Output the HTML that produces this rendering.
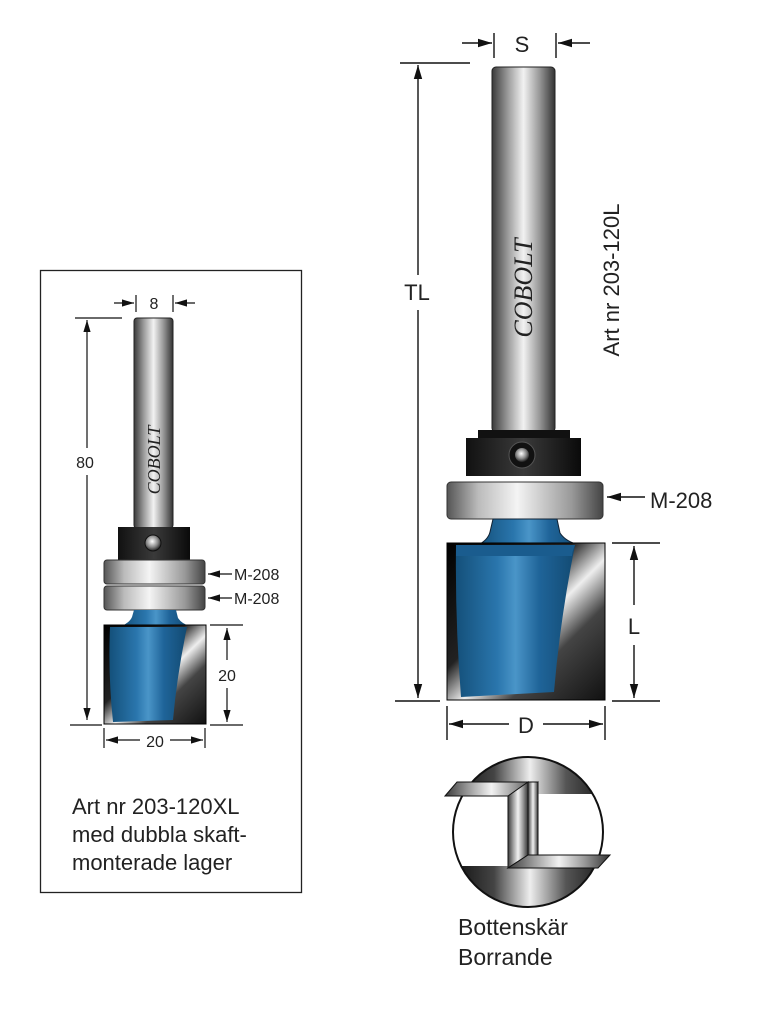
<!DOCTYPE html>
<html><head><meta charset="utf-8"><style>
html,body{margin:0;padding:0;background:#fff;}
svg{display:block;}
text{font-family:"Liberation Sans",sans-serif;fill:#222;}
</style></head><body>
<svg width="775" height="1024" viewBox="0 0 775 1024" xmlns="http://www.w3.org/2000/svg">
<defs>
<linearGradient id="steel" x1="0" x2="1" y1="0" y2="0">
<stop offset="0" stop-color="#3a3a3a"/><stop offset="0.25" stop-color="#9a9a9a"/><stop offset="0.5" stop-color="#f2f2f2"/><stop offset="0.75" stop-color="#999"/><stop offset="1" stop-color="#333"/></linearGradient>
<linearGradient id="cst" x1="0" x2="1" y1="0" y2="0">
<stop offset="0" stop-color="#000"/><stop offset="0.3" stop-color="#444"/><stop offset="0.5" stop-color="#eee"/><stop offset="0.7" stop-color="#555"/><stop offset="1" stop-color="#000"/></linearGradient>
<linearGradient id="bear" x1="0" x2="1" y1="0" y2="0">
<stop offset="0" stop-color="#555"/><stop offset="0.2" stop-color="#bbb"/><stop offset="0.45" stop-color="#f4f4f4"/><stop offset="0.8" stop-color="#999"/><stop offset="1" stop-color="#444"/></linearGradient>
<linearGradient id="blk" x1="0" x2="1" y1="0" y2="0">
<stop offset="0" stop-color="#111"/><stop offset="0.5" stop-color="#3a3a3a"/><stop offset="1" stop-color="#0a0a0a"/></linearGradient>
<linearGradient id="blue" x1="0" x2="1" y1="0" y2="0">
<stop offset="0" stop-color="#14507a"/><stop offset="0.35" stop-color="#2a76ad"/><stop offset="0.5" stop-color="#4a95c8"/><stop offset="0.7" stop-color="#1f6499"/><stop offset="1" stop-color="#124a72"/></linearGradient>
<linearGradient id="chrome" x1="0" x2="1" y1="0" y2="1">
<stop offset="0" stop-color="#000"/><stop offset="0.4" stop-color="#222"/><stop offset="0.55" stop-color="#eee"/><stop offset="0.7" stop-color="#444"/><stop offset="1" stop-color="#111"/></linearGradient>
<radialGradient id="ball" cx="0.45" cy="0.4" r="0.6"><stop offset="0" stop-color="#fff"/><stop offset="0.6" stop-color="#888"/><stop offset="1" stop-color="#222"/></radialGradient>
<marker id="ar" viewBox="0 0 10 10" refX="10" refY="5" markerWidth="10" markerHeight="10" orient="auto-start-reverse"><path d="M0,2 L10,5 L0,8 z" fill="#111"/></marker>
<clipPath id="cc"><circle cx="528" cy="832" r="75"/></clipPath>
</defs>

<!-- Big tool -->
<g stroke="#111" stroke-width="1.4" fill="none">
<line x1="400" y1="63" x2="470" y2="63"/>
<line x1="418" y1="65" x2="418" y2="275" marker-start="url(#ar)"/>
<line x1="418" y1="310" x2="418" y2="698" marker-end="url(#ar)"/>
<line x1="395" y1="701" x2="440" y2="701"/>
<line x1="612" y1="701" x2="660" y2="701"/>
<line x1="612" y1="543" x2="660" y2="543"/>
<line x1="634" y1="546" x2="634" y2="605" marker-start="url(#ar)"/>
<line x1="634" y1="645" x2="634" y2="698" marker-end="url(#ar)"/>
<line x1="447" y1="706" x2="447" y2="740"/>
<line x1="605" y1="706" x2="605" y2="740"/>
<line x1="509" y1="724" x2="449" y2="724" marker-end="url(#ar)"/>
<line x1="543" y1="724" x2="603" y2="724" marker-end="url(#ar)"/>
<line x1="494" y1="33" x2="494" y2="58"/>
<line x1="556" y1="33" x2="556" y2="58"/>
<line x1="462" y1="43" x2="492" y2="43" marker-end="url(#ar)"/>
<line x1="590" y1="43" x2="558" y2="43" marker-end="url(#ar)"/>
<line x1="645" y1="497" x2="607" y2="497" marker-end="url(#ar)"/>
</g>
<text x="522" y="52" font-size="22" text-anchor="middle">S</text>
<text x="417" y="300" font-size="22" text-anchor="middle">TL</text>
<text x="634" y="634" font-size="22" text-anchor="middle">L</text>
<text x="526" y="733" font-size="22" text-anchor="middle">D</text>
<text x="650" y="508" font-size="22">M-208</text>
<text transform="translate(619,280) rotate(-90)" font-size="22" text-anchor="middle">Art nr 203-120L</text>

<rect x="492" y="67" width="63" height="365" rx="4" fill="url(#steel)" stroke="#222"/>
<text transform="translate(532,288) rotate(-90)" font-size="26" font-style="italic" text-anchor="middle" style="font-family:'Liberation Serif',serif">COBOLT</text>
<rect x="478" y="430" width="92" height="12" fill="#111"/>
<rect x="466" y="438" width="115" height="38" fill="url(#blk)"/>
<circle cx="522" cy="455" r="13" fill="#111" stroke="#555"/>
<circle cx="522" cy="455" r="7" fill="url(#ball)"/>
<rect x="447" y="482" width="156" height="37" rx="4" fill="url(#bear)" stroke="#333"/>
<path d="M493,519 L557,519 L560,533 Q566,542 580,545 L478,545 Q488,540 490,532 Z" fill="url(#blue)" stroke="#123"/>
<rect x="447" y="543" width="158" height="157" fill="url(#chrome)" stroke="#000"/>
<path d="M456,545 L575,545 Q560,620 554,692 L461,697 Q455,620 456,545 Z" fill="url(#blue)"/>
<path d="M456,545 L575,545 Q572,552 572,556 L456,556 Z" fill="#1a5c8e"/>

<!-- circle detail -->
<g clip-path="url(#cc)">
<rect x="440" y="750" width="180" height="170" fill="#fff"/>
<rect x="440" y="750" width="180" height="44" fill="url(#cst)"/>
<rect x="440" y="866" width="180" height="45" fill="url(#cst)"/>
</g>
<circle cx="528" cy="832" r="75" fill="none" stroke="#111" stroke-width="2"/>
<path d="M445,796 L457,782 L538,782 L528,796 Z" fill="url(#steel)" stroke="#111"/>
<path d="M508,796 L528,782 L528,855 L508,868 Z" fill="url(#steel)" stroke="#111"/>
<path d="M528,782 L538,782 L538,855 L528,855 Z" fill="url(#steel)" stroke="#111"/>
<path d="M508,868 L528,855 L610,855 L598,868 Z" fill="url(#steel)" stroke="#111"/>
<text x="458" y="935" font-size="23">Bottenskär</text>
<text x="458" y="965" font-size="23">Borrande</text>

<!-- Left box -->
<rect x="40.5" y="270.5" width="261" height="622" fill="none" stroke="#222" stroke-width="1.3"/>
<g stroke="#111" stroke-width="1.2" fill="none">
<line x1="75" y1="318" x2="122" y2="318"/>
<line x1="87" y1="320" x2="87" y2="448" marker-start="url(#ar)"/>
<line x1="87" y1="475" x2="87" y2="720" marker-end="url(#ar)"/>
<line x1="70" y1="725" x2="102" y2="725"/>
<line x1="210" y1="725" x2="243" y2="725"/>
<line x1="210" y1="625" x2="243" y2="625"/>
<line x1="227" y1="628" x2="227" y2="660" marker-start="url(#ar)"/>
<line x1="227" y1="688" x2="227" y2="722" marker-end="url(#ar)"/>
<line x1="104" y1="728" x2="104" y2="748"/>
<line x1="205" y1="728" x2="205" y2="748"/>
<line x1="140" y1="740" x2="106" y2="740" marker-end="url(#ar)"/>
<line x1="170" y1="740" x2="203" y2="740" marker-end="url(#ar)"/>
<line x1="136" y1="295" x2="136" y2="312"/>
<line x1="173" y1="295" x2="173" y2="312"/>
<line x1="114" y1="303" x2="134" y2="303" marker-end="url(#ar)"/>
<line x1="195" y1="303" x2="175" y2="303" marker-end="url(#ar)"/>
<line x1="232" y1="574" x2="208" y2="574" marker-end="url(#ar)"/>
<line x1="232" y1="598" x2="208" y2="598" marker-end="url(#ar)"/>
</g>
<text x="154" y="309" font-size="16" text-anchor="middle">8</text>
<text x="85" y="468" font-size="16" text-anchor="middle">80</text>
<text x="227" y="681" font-size="16" text-anchor="middle">20</text>
<text x="155" y="747" font-size="16" text-anchor="middle">20</text>
<text x="234" y="580" font-size="16">M-208</text>
<text x="234" y="604" font-size="16">M-208</text>

<rect x="134" y="318" width="39" height="210" rx="3" fill="url(#steel)" stroke="#222"/>
<text transform="translate(160,460) rotate(-90)" font-size="18" font-style="italic" text-anchor="middle" style="font-family:'Liberation Serif',serif">COBOLT</text>
<rect x="118" y="527" width="72" height="33" fill="url(#blk)"/>
<circle cx="153" cy="543" r="8" fill="url(#ball)" stroke="#111"/>
<rect x="104" y="560" width="101" height="24" rx="3" fill="url(#bear)" stroke="#333"/>
<rect x="104" y="586" width="101" height="24" rx="3" fill="url(#bear)" stroke="#333"/>
<path d="M134,610 L176,610 L178,618 Q182,624 190,626 L122,626 Q130,622 132,617 Z" fill="url(#blue)"/>
<rect x="104" y="625" width="102" height="99" fill="url(#chrome)" stroke="#000"/>
<path d="M110,627 L187,627 Q177,675 173,720 L113,722 Q108,675 110,627 Z" fill="url(#blue)"/>
<text x="72" y="814" font-size="22">Art nr 203-120XL</text>
<text x="72" y="842" font-size="22">med dubbla skaft-</text>
<text x="72" y="870" font-size="22">monterade lager</text>
</svg>
</body></html>
